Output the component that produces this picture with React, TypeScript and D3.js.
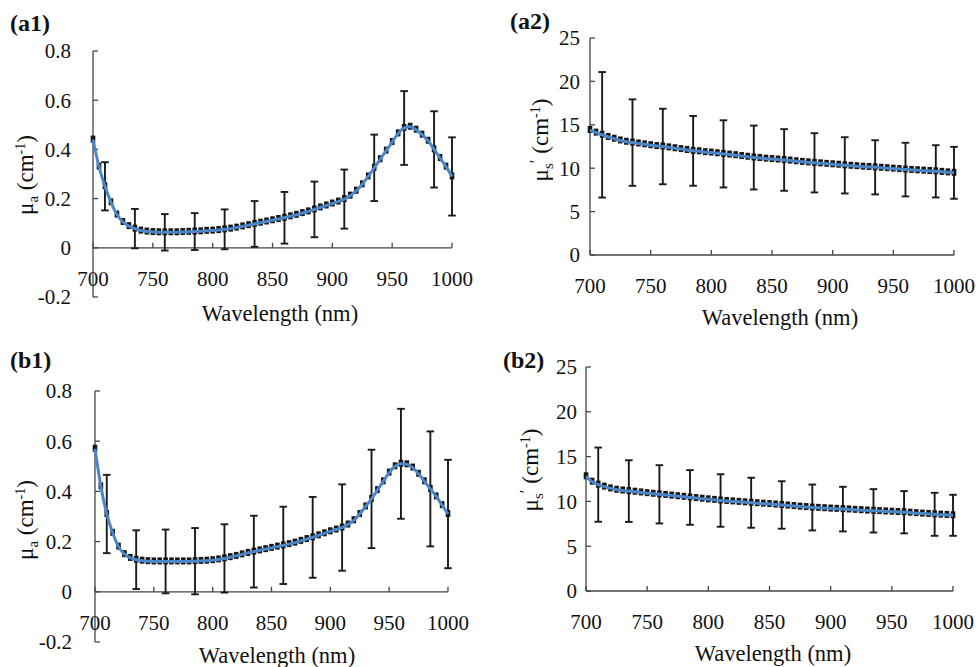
import React from 'react';
import * as d3 from 'd3';

const wavelengths = [700,705,710,715,720,725,730,735,740,745,750,755,760,765,770,775,780,785,790,795,800,805,810,815,820,825,830,835,840,845,850,855,860,865,870,875,880,885,890,895,900,905,910,915,920,925,930,935,940,945,950,955,960,965,970,975,980,985,990,995,1000];
const errWavelengths = [710,735,760,785,810,835,860,885,910,935,960,985,1000];
const xTicks = [700,750,800,850,900,950,1000];

const muaA = [0.44,0.33,0.25,0.185,0.135,0.105,0.088,0.078,0.07,0.066,0.064,0.063,0.063,0.063,0.063,0.064,0.065,0.066,0.067,0.069,0.07,0.072,0.075,0.078,0.082,0.087,0.092,0.097,0.102,0.107,0.112,0.117,0.122,0.128,0.134,0.141,0.148,0.156,0.164,0.172,0.18,0.188,0.198,0.212,0.232,0.258,0.29,0.325,0.36,0.395,0.43,0.465,0.487,0.492,0.48,0.46,0.435,0.4,0.365,0.33,0.29];
const muaAsd = [0.098,0.08,0.074,0.075,0.081,0.093,0.105,0.113,0.12,0.135,0.15,0.155,0.159];

const musA = [14.4,14.1,13.85,13.6,13.4,13.2,13.05,12.95,12.85,12.75,12.65,12.55,12.5,12.4,12.3,12.2,12.1,12.0,11.95,11.85,11.8,11.72,11.65,11.57,11.5,11.4,11.32,11.23,11.17,11.1,11.05,11.0,10.95,10.88,10.8,10.73,10.67,10.62,10.56,10.5,10.45,10.4,10.33,10.28,10.23,10.18,10.14,10.1,10.05,10.0,9.95,9.9,9.84,9.8,9.76,9.72,9.68,9.64,9.58,9.52,9.47];
const musAsd = [7.23,4.98,4.35,4.02,3.87,3.68,3.55,3.41,3.24,3.12,3.09,3.01,2.99];

const muaB = [0.57,0.42,0.31,0.235,0.18,0.15,0.135,0.128,0.124,0.122,0.121,0.121,0.121,0.121,0.121,0.121,0.121,0.122,0.123,0.124,0.126,0.129,0.133,0.138,0.143,0.149,0.155,0.16,0.165,0.17,0.175,0.18,0.185,0.19,0.196,0.203,0.21,0.217,0.225,0.233,0.241,0.248,0.256,0.268,0.285,0.31,0.34,0.37,0.405,0.44,0.475,0.5,0.51,0.508,0.495,0.47,0.44,0.41,0.38,0.345,0.31];
const muaBsd = [0.156,0.117,0.127,0.132,0.136,0.143,0.154,0.161,0.172,0.196,0.219,0.229,0.216];

const musB = [12.8,12.2,11.87,11.65,11.45,11.3,11.22,11.15,11.08,11.0,10.92,10.85,10.79,10.72,10.65,10.58,10.51,10.44,10.37,10.3,10.23,10.17,10.1,10.05,10.0,9.95,9.9,9.85,9.8,9.75,9.7,9.65,9.6,9.54,9.48,9.42,9.37,9.32,9.28,9.24,9.2,9.17,9.14,9.1,9.06,9.02,8.98,8.95,8.92,8.88,8.85,8.82,8.79,8.74,8.69,8.64,8.6,8.56,8.52,8.49,8.45];
const musBsd = [4.14,3.44,3.25,3.05,2.93,2.79,2.65,2.56,2.49,2.42,2.36,2.4,2.29];

const muaTicks = [-0.2,0,0.2,0.4,0.6,0.8];
const musTicks = [0,5,10,15,20,25];

const FONT = '"Liberation Serif", "Times New Roman", Times, serif';
const BLUE = '#4a86c8';

type PanelProps = {
  values: number[];
  sds: number[];
  yDomain: [number, number];
  yRange: [number, number];
  xRange: [number, number];
  yTicks: number[];
  label: string;
  labelX: number;
  labelY: number;
  yLabelKind: 'a' | 's';
  yLabelX: number;
  yLabelY: number;
  xTitleX: number;
  xTitleY: number;
  yTickGap: number;
};

function Panel(p: PanelProps) {
  const x = d3.scaleLinear().domain([700, 1000]).range(p.xRange);
  const y = d3.scaleLinear().domain(p.yDomain).range(p.yRange);
  const line = d3
    .line<number>()
    .x((_, i) => x(wavelengths[i]))
    .y((d) => y(d))
    .curve(d3.curveMonotoneX);
  const y0 = y(0);
  const tf = { fontFamily: FONT };
  return (
    <g>
      <line x1={p.xRange[0]} x2={p.xRange[0]} y1={y(p.yTicks[p.yTicks.length - 1])} y2={y(p.yTicks[0])} stroke="#444" strokeWidth={1.3} />
      <line x1={p.xRange[0]} x2={p.xRange[1]} y1={y0} y2={y0} stroke="#444" strokeWidth={1.3} />
      {p.yTicks.map((t) => (
        <g key={'y' + t}>
          <line x1={p.xRange[0]} x2={p.xRange[0] + 5} y1={y(t)} y2={y(t)} stroke="#444" strokeWidth={1.3} />
          <text x={p.xRange[0] - p.yTickGap} y={y(t)} dy="0.35em" textAnchor="end" style={tf} fontSize={21} fill="#111">
            {String(t)}
          </text>
        </g>
      ))}
      {xTicks.map((t) => (
        <g key={'x' + t}>
          <line x1={x(t)} x2={x(t)} y1={y0} y2={y0 - 5} stroke="#444" strokeWidth={1.3} />
          <text x={x(t)} y={y0 + 31} dy="0.35em" textAnchor="middle" style={tf} fontSize={21} fill="#111">
            {t}
          </text>
        </g>
      ))}
      {errWavelengths.map((w, i) => {
        const v = p.values[wavelengths.indexOf(w)];
        const hi = y(v + p.sds[i]);
        const lo = y(v - p.sds[i]);
        const cx = x(w);
        return (
          <g key={'e' + w} stroke="#1a1a1a" strokeWidth={1.9}>
            <line x1={cx} x2={cx} y1={hi} y2={lo} />
            <line x1={cx - 3.8} x2={cx + 3.8} y1={hi} y2={hi} />
            <line x1={cx - 3.8} x2={cx + 3.8} y1={lo} y2={lo} />
          </g>
        );
      })}
      {p.values.map((v, i) => (
        <rect key={'m' + i} x={x(wavelengths[i]) - 2.3} y={y(v) - 4} width={4.6} height={7} fill="#151515" />
      ))}
      <path d={line(p.values) || ''} fill="none" stroke={BLUE} strokeWidth={3} />
      <text x={p.labelX} y={p.labelY} style={tf} fontWeight="bold" fontSize={24} fill="#111">
        {p.label}
      </text>
      <text x={p.xTitleX} y={p.xTitleY} dy="0.35em" textAnchor="middle" style={tf} fontSize={22.5} fill="#111">
        Wavelength (nm)
      </text>
      <text transform={`translate(${p.yLabelX},${p.yLabelY}) rotate(-90)`} dy="0.35em" textAnchor="middle" style={tf} fontSize={23} fill="#111">
        μ
        {p.yLabelKind === 'a' ? (
          <>
            <tspan dy="5" fontSize={15}>a</tspan>
            <tspan dy="-5"> (cm</tspan>
          </>
        ) : (
          <>
            <tspan dy="5" fontSize={15}>s</tspan>
            <tspan dy="-12" fontSize={17}>′</tspan>
            <tspan dy="7"> (cm</tspan>
          </>
        )}
        <tspan dy="-8" fontSize={14}>-1</tspan>
        <tspan dy="8">)</tspan>
      </text>
    </g>
  );
}

export default function App() {
  return (
    <svg width={976} height={667} style={{ position: 'absolute', left: 0, top: 0, background: '#fff' }}>
      <rect width={976} height={667} fill="#fff" />
      <Panel values={muaA} sds={muaAsd} yDomain={[-0.2, 0.8]} yRange={[297, 51]} xRange={[93, 452]} yTicks={muaTicks}
        label="(a1)" labelX={10} labelY={31} yLabelKind="a" yLabelX={25} yLabelY={175} xTitleX={280} xTitleY={313} yTickGap={22} />
      <Panel values={musA} sds={musAsd} yDomain={[0, 25]} yRange={[255, 38]} xRange={[590, 954]} yTicks={musTicks}
        label="(a2)" labelX={510} labelY={29} yLabelKind="s" yLabelX={540} yLabelY={140} xTitleX={780} xTitleY={317} yTickGap={10} />
      <Panel values={muaB} sds={muaBsd} yDomain={[-0.2, 0.8]} yRange={[642, 391]} xRange={[95, 448]} yTicks={muaTicks}
        label="(b1)" labelX={10} labelY={368} yLabelKind="a" yLabelX={25} yLabelY={520} xTitleX={277} xTitleY={655} yTickGap={23} />
      <Panel values={musB} sds={musBsd} yDomain={[0, 25]} yRange={[591, 367]} xRange={[586, 953]} yTicks={musTicks}
        label="(b2)" labelX={503} labelY={368} yLabelKind="s" yLabelX={530} yLabelY={470} xTitleX={773} xTitleY={653} yTickGap={9} />
    </svg>
  );
}
